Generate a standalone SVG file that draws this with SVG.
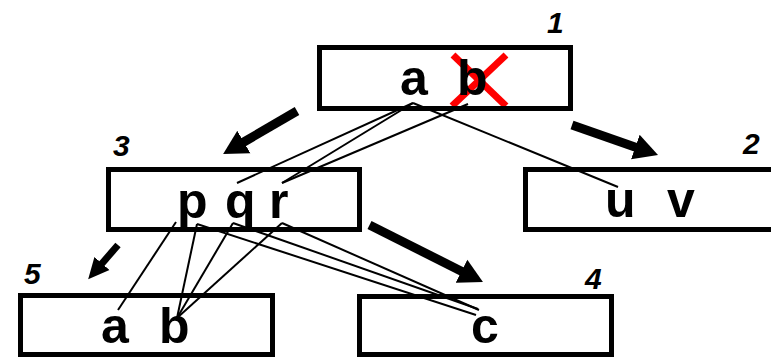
<svg xmlns="http://www.w3.org/2000/svg" width="771" height="358" viewBox="0 0 771 358">
<style>
.box{fill:none;stroke:#000;stroke-width:5}
.lt{font-family:"Liberation Sans",Arial,sans-serif;font-weight:bold;font-size:50px;fill:#000}
.num{font-family:"Liberation Sans",Arial,sans-serif;font-weight:bold;font-style:italic;font-size:30px;fill:#000}
.thin{stroke:#000;stroke-width:2;fill:none}
.big{stroke:#000;stroke-width:9;fill:none;marker-end:url(#head)}
.small{stroke:#000;stroke-width:7;fill:none;marker-end:url(#headS)}
.cross{stroke:#ff0000;stroke-width:7}
</style>
<defs>
<marker id="head" markerUnits="userSpaceOnUse" viewBox="0 -14 25 28" markerWidth="25" markerHeight="28" refX="1" refY="0" orient="auto">
<path d="M0,-13 L24,0 L0,13 Z" fill="#000"/>
</marker>
<marker id="headS" markerUnits="userSpaceOnUse" viewBox="0 -11 22 22" markerWidth="22" markerHeight="22" refX="1" refY="0" orient="auto">
<path d="M0,-10 L21,0 L0,10 Z" fill="#000"/>
</marker>
</defs>
<rect width="771" height="358" fill="#fff"/>
<g id="node1">
<line class="cross" x1="453" y1="55" x2="506" y2="106"/>
<line class="cross" x1="506" y1="55" x2="452" y2="106"/>
<rect class="box" x="319.5" y="47.5" width="251" height="61"/>
<text class="lt" y="95"><tspan x="400">a</tspan><tspan x="457">b</tspan></text>
<text class="num" x="547" y="33">1</text>
</g>
<g id="node2">
<rect class="box" x="525.5" y="169.5" width="252" height="60"/>
<text class="lt" y="217"><tspan x="605">u</tspan><tspan x="667">v</tspan></text>
<text class="num" x="743" y="154">2</text>
</g>
<g id="node3">
<rect class="box" x="108.5" y="169.5" width="251" height="60"/>
<text class="lt" y="218"><tspan x="177">p</tspan><tspan x="225">q</tspan><tspan x="269">r</tspan></text>
<text class="num" x="113" y="156">3</text>
</g>
<g id="node4">
<rect class="box" x="359.5" y="296.5" width="252" height="58"/>
<text class="lt" x="471" y="343">c</text>
<text class="num" x="585" y="289">4</text>
</g>
<g id="node5">
<rect class="box" x="20.5" y="295.5" width="252" height="59"/>
<text class="lt" y="343"><tspan x="101">a</tspan><tspan x="159">b</tspan></text>
<text class="num" x="24" y="284">5</text>
</g>
<g id="connectors">
<line class="thin" x1="413" y1="103" x2="237" y2="183"/>
<line class="thin" x1="413" y1="103" x2="282" y2="183"/>
<line class="thin" x1="468" y1="104" x2="282" y2="183"/>
<line class="thin" x1="413" y1="103" x2="618" y2="187"/>
<line class="thin" x1="176" y1="222" x2="118" y2="310"/>
<line class="thin" x1="197" y1="224" x2="177" y2="318"/>
<line class="thin" x1="233" y1="223" x2="177" y2="318"/>
<line class="thin" x1="282" y1="223" x2="177" y2="318"/>
<line class="thin" x1="197" y1="224" x2="476" y2="315"/>
<line class="thin" x1="233" y1="223" x2="478" y2="309"/>
<line class="thin" x1="282" y1="223" x2="479" y2="310"/>
<line class="big" x1="297" y1="111" x2="243" y2="142.5"/>
<line class="big" x1="572" y1="125" x2="636.3" y2="147.4"/>
<line class="big" x1="369.5" y1="225" x2="462.4" y2="271.7"/>
<line class="small" x1="118" y1="245" x2="101.3" y2="264.2"/>
</g>
</svg>
